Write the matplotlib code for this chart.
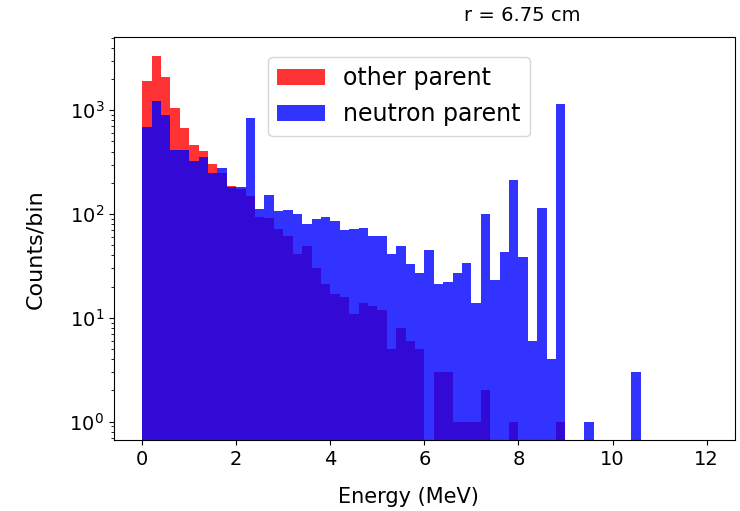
import numpy as np
import matplotlib
matplotlib.use("Agg")
import matplotlib.pyplot as plt

# histogram binning: 0-12 MeV, 0.2 MeV bins
bin_edges = np.linspace(0, 12, 61)

# counts per bin
other_counts = [1929, 3360, 2109, 1060, 670, 460, 403, 306, 251, 187,
                173, 149, 94, 91, 71, 62, 41, 49, 30, 21,
                17, 16, 11, 14, 13, 12, 5, 8, 6, 5,
                0, 3, 3, 1, 1, 1, 2, 0, 0, 1,
                0, 0, 0, 0, 1, 0, 0, 0, 0, 0,
                0, 0, 0, 0, 0, 0, 0, 0, 0, 0]
neutron_counts = [695, 1230, 901, 418, 418, 325, 357, 251, 276, 184,
                  182, 837, 112, 153, 106, 109, 100, 80, 89, 94,
                  85, 70, 71, 74, 61, 61, 41, 49, 33, 27,
                  45, 21, 22, 27, 34, 14, 100, 23, 43, 213,
                  39, 6, 114, 4, 1142, 0, 0, 1, 0, 0,
                  0, 0, 3, 0, 0, 0, 0, 0, 0, 0]

centers = 0.5 * (bin_edges[:-1] + bin_edges[1:])

fig = plt.figure(figsize=(7.4, 5.11), dpi=100)
ax = fig.add_axes([0.154, 0.139, 0.839, 0.788])

ax.hist(centers, bins=bin_edges, weights=other_counts, color='red',
        alpha=0.8, log=True, label='other parent')
ax.hist(centers, bins=bin_edges, weights=neutron_counts, color='blue',
        alpha=0.8, log=True, label='neutron parent')

ymax = max(other_counts)
span = np.log10(ymax)
ax.set_ylim(10 ** (-0.05 * span), 10 ** (1.05 * span))
ax.set_xlim(-0.6, 12.6)
ax.set_xticks([0, 2, 4, 6, 8, 10, 12])

ax.set_xlabel("Energy (MeV)", fontsize=15)
ax.set_ylabel("Counts/bin", fontsize=16)
ax.xaxis.set_label_coords(0.474, -0.117)
ax.yaxis.set_label_coords(-0.11, 0.474)
ax.set_title("r = 6.75 cm", fontsize=14, x=0.657, pad=12)
ax.tick_params(labelsize=14)

ax.legend(fontsize=17, loc='upper left', bbox_to_anchor=(0.248, 0.951),
          borderaxespad=0)

fig.savefig("out.png", dpi=100)
